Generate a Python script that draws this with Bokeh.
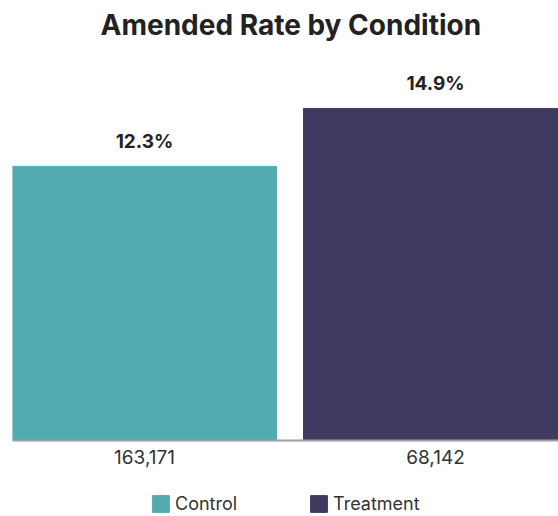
from bokeh.plotting import figure
from bokeh.models import ColumnDataSource, LabelSet, Legend, LegendItem, Range1d, Span
from bokeh.core.properties import value
from bokeh.embed import file_html
from bokeh.resources import INLINE

# Amended rate (%) per condition and the number of records in each group
conditions = ["Control", "Treatment"]
rates = [12.3, 14.9]
counts = [163171, 68142]
colors = ["#53abaf", "#3f3a60"]

positions = list(range(len(conditions)))
count_labels = [f"{c:,}" for c in counts]
rate_labels = [f"{r:.1f}%" for r in rates]

source = ColumnDataSource(dict(
    x=positions,
    base=[0] * len(conditions),
    rate=rates,
    rate_label=rate_labels,
    count_label=count_labels,
    condition=conditions,
    color=colors,
))

FONT = "Inter"

# the frame runs to the bottom edge; the space under the baseline holds counts and legend
p = figure(
    frame_width=546,
    frame_height=470,
    min_border_left=12,
    min_border_right=0,
    min_border_top=44,
    min_border_bottom=0,
    x_range=Range1d(-0.4536, 1.4227),
    y_range=Range1d(-3.411, 17.68),
    x_axis_location=None,
    y_axis_location=None,
    toolbar_location=None,
    output_backend="svg",
    title="Amended Rate by Condition",
)

p.title.align = "left"
p.title.offset = 88
p.title.text_font = FONT
p.title.text_font_size = "28px"
p.title.text_font_style = "bold"
p.title.text_color = "#222222"
p.title.standoff = 10

r = p.vbar(x="x", bottom="base", top="rate", width=0.907, color="color", source=source)

# baseline rule
p.add_layout(Span(location=0, dimension="width", line_color="#a0a0a0", line_width=2))

# rate above each bar
p.add_layout(LabelSet(
    x="x", y="rate", text="rate_label", source=source,
    y_offset=18, text_align="center", text_baseline="alphabetic",
    text_font=value(FONT), text_font_size=value("19px"), text_font_style=value("bold"),
    text_color="#222222",
))

# group size under each bar
p.add_layout(LabelSet(
    x="x", y="base", text="count_label", source=source,
    y_offset=-24, text_align="center", text_baseline="alphabetic",
    text_font=value(FONT), text_font_size=value("19px"),
    text_color="#333333",
))

p.xgrid.grid_line_color = None
p.ygrid.grid_line_color = None
p.outline_line_color = None

legend = Legend(
    items=[LegendItem(label=c, renderers=[r], index=i) for i, c in enumerate(conditions)],
    orientation="horizontal",
    location=(138, 2),
    padding=0,
    margin=0,
    spacing=71,
    glyph_width=21,
    glyph_height=21,
    label_standoff=4,
    label_text_font=FONT,
    label_text_font_size="18px",
    label_text_color="#333333",
    border_line_color=None,
    background_fill_alpha=0,
)
p.add_layout(legend, "center")

open("out.html", "w").write(file_html(p, INLINE))
